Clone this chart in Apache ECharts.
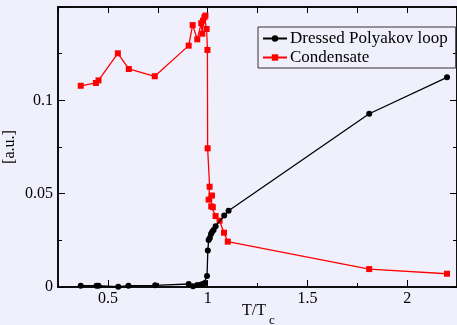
<!DOCTYPE html>
<html>
<head>
<meta charset="utf-8">
<script src="https://cdn.jsdelivr.net/npm/echarts@6/dist/echarts.min.js"></script>
<style>
html,body{margin:0;padding:0;background:#f0f0fc;}
#c{width:457px;height:325px;}
</style>
</head>
<body>
<div id="c"></div>
<script>
// Dressed Polyakov loop (x = T/Tc, y = a.u.)
const polyX = [0.364,0.443,0.453,0.552,0.603,0.737,0.905,0.927,0.948,0.968,0.98,0.987,0.997,1.001,1.005,1.011,1.017,1.023,1.03,1.04,1.083,1.105,1.81,2.2];
const polyY = [0.0007,0.0007,0.0007,0.0002,0.0007,0.0009,0.0016,0.0004,0.0011,0.0014,0.0017,0.0021,0.0059,0.0195,0.0252,0.0263,0.0284,0.0296,0.0305,0.0325,0.0383,0.0408,0.0928,0.1123];
// Condensate
const condX = [0.364,0.44,0.453,0.55,0.605,0.735,0.905,0.925,0.948,0.968,0.973,0.977,0.984,0.989,0.995,0.999,1.0,1.01,1.005,1.022,1.018,1.026,1.04,1.06,1.082,1.101,1.81,2.2];
const condY = [0.1078,0.1093,0.1107,0.1252,0.1168,0.1129,0.1293,0.1403,0.1327,0.1413,0.1357,0.1427,0.1445,0.1454,0.1382,0.1270,0.0743,0.0537,0.0468,0.0490,0.0432,0.0428,0.0380,0.0355,0.0291,0.0243,0.0096,0.0071];
const xMajor = [0.5,1,1.5,2];
const xMinor = [0.25,0.75,1.25,1.75,2.25];
const yMajor = [0,0.05,0.1,0.15];
const yMinor = [0.025,0.075,0.125];
const yLabels = [0,0.05,0.1];

const FONT = '"Liberation Serif","DejaVu Serif",serif';
const zip = (a,b)=>a.map((v,i)=>[v,b[i]]);

function xAxisDef(pos, ticks, len, labels){
  return {type:'value', position:pos, min:0.25, max:2.25,
    axisLine:{show:true, onZero:false, lineStyle:{color:'#000', width:1.5}},
    axisTick:{show:true, inside:true, length:len, customValues:ticks, lineStyle:{color:'#000', width:1}},
    axisLabel:{show:!!labels, customValues:labels||[], formatter:v=>String(v), margin:4,
      fontFamily:FONT, fontSize:16, color:'#000'},
    splitLine:{show:false}};
}
function yAxisDef(pos, ticks, len, labels){
  return {type:'value', position:pos, min:0, max:0.15,
    axisLine:{show:true, onZero:false, lineStyle:{color:'#000', width:1.5}},
    axisTick:{show:true, inside:true, length:len, customValues:ticks, lineStyle:{color:'#000', width:1}},
    axisLabel:{show:!!labels, customValues:labels||[], formatter:v=>String(v), margin:5,
      fontFamily:FONT, fontSize:16, color:'#000'},
    splitLine:{show:false}};
}

const chart = echarts.init(document.getElementById('c'), null, {renderer:'canvas'});
chart.setOption({
  backgroundColor:'#f0f0fc',
  animation:false,
  grid:{left:58, top:7, right:-1, bottom:38, containLabel:false},
  xAxis:[
    xAxisDef('bottom', xMajor, 7, xMajor),
    xAxisDef('bottom', xMinor, 4, null),
    xAxisDef('top', xMajor, 6, null),
    xAxisDef('top', xMinor, 6, null)
  ],
  yAxis:[
    yAxisDef('left', yMajor, 7, yLabels),
    yAxisDef('left', yMinor, 4, null),
    yAxisDef('right', yMajor, 7, null),
    yAxisDef('right', yMinor, 4, null)
  ],
  legend:{
    orient:'vertical', left:258, top:27, padding:[3,8,2,4], itemGap:2,
    itemWidth:24, itemHeight:8,
    borderColor:'#333', borderWidth:1, borderRadius:0,
    textStyle:{fontFamily:FONT, fontSize:17, color:'#000', padding:[0,0,0,-2]},
    data:['Dressed Polyakov loop','Condensate']
  },
  series:[
    {name:'Dressed Polyakov loop', type:'line', xAxisIndex:0, yAxisIndex:0,
     data:zip(polyX,polyY), symbol:'circle', symbolSize:6,
     itemStyle:{color:'#000'}, lineStyle:{color:'#000', width:1.3}, z:3},
    {name:'Condensate', type:'line', xAxisIndex:0, yAxisIndex:0,
     data:zip(condX,condY), symbol:'rect', symbolSize:6,
     itemStyle:{color:'#ff0000'}, lineStyle:{color:'#ff0000', width:1.3}, z:2}
  ],
  graphic:[
    {type:'text', left:242, top:303, style:{text:'T/T', font:'16px '+FONT, fill:'#000'}},
    {type:'text', left:269, top:314, style:{text:'c', font:'13px '+FONT, fill:'#000'}},
    {type:'text', x:10, y:147, rotation:Math.PI/2,
     style:{text:'[a.u.]', font:'16px '+FONT, fill:'#000', align:'center', verticalAlign:'middle'}}
  ]
});
</script>
</body>
</html>
